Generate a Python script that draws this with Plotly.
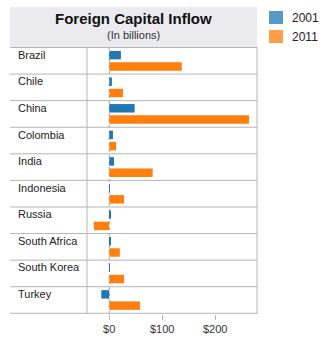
import plotly.graph_objects as go

# Foreign capital inflow by country, in billions of US dollars
countries = ["Brazil", "Chile", "China", "Colombia", "India", "Indonesia",
             "Russia", "South Africa", "South Korea", "Turkey"]
inflow_2001 = [22, 5, 48, 7, 9, 1, 3, 3, 1, -15]
inflow_2011 = [137, 26, 264, 13, 82, 28, -29, 20, 28, 58]
years = ["2001", "2011"]
tick_values = [0, 100, 200]
tick_labels = ["$0", "$100", "$200"]

W, H = 331, 346
ML, MR, MT, MB = 87, 74, 47, 32
PW, PH = W - ML - MR, H - MT - MB

BAR_COLORS = ["#1f77b4", "#ff7f0e"]
KEY_COLORS = ["#5799c7", "#ff9f4a"]
LINE = "#b5b5b5"
FONT = "Liberation Sans, Arial, sans-serif"


def px_x(px):
    """Horizontal pixel position -> paper coordinate."""
    return (px - ML) / PW


def px_y(py):
    """Vertical pixel position (from top) -> paper coordinate."""
    return (H - MB - py) / PH


fig = go.Figure()
for name, vals, col in zip(years, [inflow_2001, inflow_2011], BAR_COLORS):
    fig.add_trace(go.Bar(
        y=countries, x=vals, name=name, orientation="h",
        marker=dict(color=col, line=dict(width=0)),
        showlegend=False,
    ))

shapes = []
left_edge = px_x(10)

# title band
shapes.append(dict(type="rect", xref="paper", yref="paper",
                   x0=left_edge, x1=1, y0=1, y1=px_y(7),
                   fillcolor="#ebebef", line=dict(width=0), layer="below"))

# row separators spanning the label column and the plot
for i in range(len(countries) + 1):
    shapes.append(dict(type="line", xref="paper", yref="y",
                       x0=left_edge, x1=1, y0=i - 0.5, y1=i - 0.5,
                       line=dict(color=LINE, width=1)))

# column divider and right border
for xp in (0, 1):
    shapes.append(dict(type="line", xref="paper", yref="paper",
                       x0=xp, x1=xp, y0=0, y1=1,
                       line=dict(color=LINE, width=1)))

# dotted zero line
shapes.append(dict(type="line", xref="x", yref="paper",
                   x0=0, x1=0, y0=0, y1=1,
                   line=dict(color="#a0a0a0", width=1, dash="dot"),
                   layer="below"))

annotations = []
for c in countries:
    annotations.append(dict(text=c, xref="paper", yref="y",
                            x=px_x(16), y=c, xanchor="left", yanchor="middle",
                            yshift=6, showarrow=False,
                            font=dict(family=FONT, size=11, color="#222")))

title_x = (px_x(10) + 1) / 2
annotations.append(dict(text="<b>Foreign Capital Inflow</b>", xref="paper",
                        yref="paper", x=title_x, y=px_y(19),
                        xanchor="center", yanchor="middle", showarrow=False,
                        font=dict(family=FONT, size=15, color="#111")))
annotations.append(dict(text="(In billions)", xref="paper", yref="paper",
                        x=title_x, y=px_y(35), xanchor="center",
                        yanchor="middle", showarrow=False,
                        font=dict(family=FONT, size=11, color="#333")))

# legend keys
for name, col, top in zip(years, KEY_COLORS, (11, 30)):
    shapes.append(dict(type="rect", xref="paper", yref="paper",
                       x0=px_x(269), x1=px_x(283),
                       y0=px_y(top + 13), y1=px_y(top),
                       fillcolor=col, line=dict(width=0)))
    annotations.append(dict(text=name, xref="paper", yref="paper",
                            x=px_x(290), y=px_y(top + 6.5),
                            xanchor="left", yanchor="middle", showarrow=False,
                            font=dict(family=FONT, size=12, color="#222")))

fig.update_layout(
    width=W, height=H,
    margin=dict(l=ML, r=MR, t=MT, b=MB, pad=0),
    paper_bgcolor="white", plot_bgcolor="white",
    barmode="group", bargap=0.15, bargroupgap=0.25,
    shapes=shapes, annotations=annotations,
    showlegend=False,
    xaxis=dict(range=[-42, 279], tickvals=tick_values, ticktext=tick_labels,
               ticks="outside", ticklen=5, tickcolor=LINE,
               showgrid=False, zeroline=False, showline=False,
               tickfont=dict(family=FONT, size=11, color="#333")),
    yaxis=dict(categoryorder="array", categoryarray=countries,
               autorange="reversed", showticklabels=False,
               showgrid=False, zeroline=False, showline=False, ticks=""),
)

fig.write_html("out.html")
